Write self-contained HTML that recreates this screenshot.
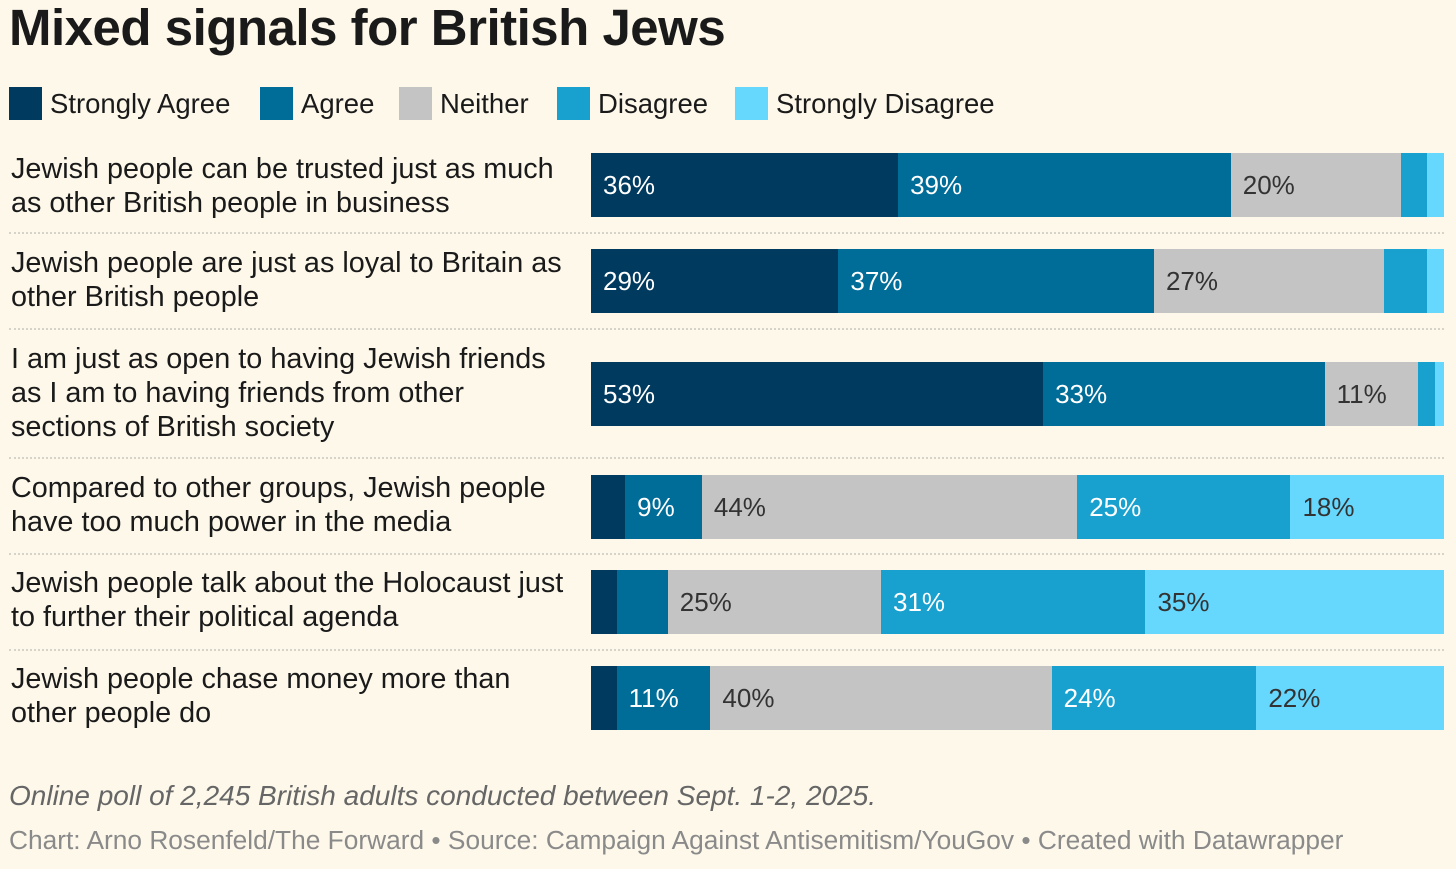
<!DOCTYPE html>
<html><head><meta charset="utf-8"><style>
body{margin:0;width:1456px;height:869px;background:#fdf8ea;font-family:"Liberation Sans",sans-serif;color:#1a1a1a;position:relative;overflow:hidden}
.t{position:absolute}
#title{left:9px;top:-2px;font-size:51px;font-weight:bold;letter-spacing:-0.5px}
.leg{position:absolute;top:87px;height:33px;display:flex;align-items:center;font-size:27.5px}
.leg i{display:inline-block;width:33px;height:33px;margin-right:8px}
.lab{position:absolute;left:11px;font-size:28.8px;line-height:34px;width:590px;white-space:nowrap}
.sep{position:absolute;left:9px;width:1435px;border-top:2px dotted #d6d3c8}
.seg{position:absolute;height:64px}
.val{position:absolute;font-size:26px;line-height:64px;padding-left:12px}
#note{left:9px;top:780px;font-size:28px;font-style:italic;color:#666}
#src{left:9px;top:825px;font-size:26.3px;color:#8a8a8a}
</style></head><body>
<div class="t" id="title">Mixed signals for British Jews</div>
<div id="legend"></div>
<div id="chart"></div>
<div class="t" id="note">Online poll of 2,245 British adults conducted between Sept. 1-2, 2025.</div>
<div class="t" id="src">Chart: Arno Rosenfeld/The Forward • Source: Campaign Against Antisemitism/YouGov • Created with Datawrapper</div>
<script>
const categories=["Jewish people can be trusted just as much|as other British people in business","Jewish people are just as loyal to Britain as|other British people","I am just as open to having Jewish friends|as I am to having friends from other|sections of British society","Compared to other groups, Jewish people|have too much power in the media","Jewish people talk about the Holocaust just|to further their political agenda","Jewish people chase money more than|other people do"];
const seriesNames=["Strongly Agree","Agree","Neither","Disagree","Strongly Disagree"];
const stronglyAgree=[36,29,53,4,3,3];
const agree=[39,37,33,9,6,11];
const neither=[20,27,11,44,25,40];
const disagree=[3,5,2,25,31,24];
const stronglyDisagree=[2,2,1,18,35,22];
const series=[stronglyAgree,agree,neither,disagree,stronglyDisagree];
const colors=["#003a5f","#006d99","#c4c4c4","#18a1cf","#66d7fd"];
const textColors=["#fff","#fff","#333","#fff","#333"];
const x0=591,x1=1444;
const xs=v=>(x1-x0)*v/100;
const barTops=[153,249,362,475,570,666];
const labTops=[152,246,342,471,566,662];
const sepYs=[232,328,457,553,649];
const legX=[9,260,399,557,735];
const leg=document.getElementById('legend');
seriesNames.forEach((n,i)=>{const d=document.createElement('div');d.className='leg';d.style.left=legX[i]+'px';


d.innerHTML='<i style="background:'+colors[i]+'"></i>'+n;leg.appendChild(d);});
const ch=document.getElementById('chart');
categories.forEach((c,r)=>{
 const l=document.createElement('div');l.className='lab';l.style.top=labTops[r]+'px';l.innerHTML=c.split('|').join('<br>');
 
 
 ch.appendChild(l);
 let acc=0;
 series.forEach((s,k)=>{const v=s[r];const b=document.createElement('div');b.className='seg';
  b.style.left=(x0+xs(acc))+'px';b.style.width=xs(v)+'px';b.style.top=barTops[r]+'px';b.style.background=colors[k];
  
  
  if(v>=9){const t=document.createElement('span');t.className='val';t.style.color=textColors[k];t.textContent=v+'%';b.appendChild(t);}
  ch.appendChild(b);acc+=v;});
});
sepYs.forEach(y=>{const s=document.createElement('div');s.className='sep';s.style.top=y+'px';


ch.appendChild(s);});
</script>
</body></html>
